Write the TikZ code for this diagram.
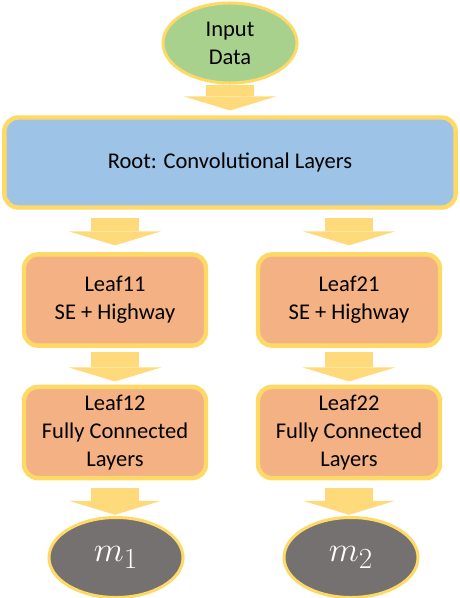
\documentclass[tikz,border=0pt]{standalone}
\usepackage{fontspec}
\setmainfont{Carlito}
\usepackage{tikz}
\usetikzlibrary{shapes.geometric,arrows.meta}
\definecolor{rim}{HTML}{FFD966}
\definecolor{flowgold}{HTML}{FFDA7A}
\definecolor{inputgreen}{HTML}{A9D18E}
\definecolor{rootblue}{HTML}{9DC3E6}
\definecolor{leaforange}{HTML}{F4B183}
\definecolor{outgray}{HTML}{767171}

\begin{document}
\begin{tikzpicture}[
  x=0.025cm, y=-0.025cm,
  box/.style={draw=rim, line width=0.11cm, rounded corners=0.35cm, fill=#1,
    align=center, inner sep=0pt, font=\fontsize{16}{20}\selectfont},
  blob/.style={ellipse, draw=rim, line width=0.075cm, fill=#1, inner sep=0pt,
    minimum width=3.35cm, minimum height=2cm, align=center},
  flow/.style={draw=flowgold, line width=1.18cm,
    -{Triangle[length=0.35cm, width=2.3cm, line width=0pt]},
    shorten <=0.15cm, shorten >=0.12cm}
]
\useasboundingbox (0,0) rectangle (460,598);

\node[blob=inputgreen, font=\fontsize{16}{20}\selectfont] (input) at (230,43) {Input\\Data};

\node[box=rootblue, minimum width=11.28cm, minimum height=2.25cm] (root) at (230,162.5) {Root: Convolutional Layers};

\node[box=leaforange, minimum width=4.55cm, minimum height=2.28cm] (leaf11) at (115,300) {Leaf11\\SE + Highway};
\node[box=leaforange, minimum width=4.55cm, minimum height=2.28cm] (leaf21) at (349,300) {Leaf21\\SE + Highway};

\node[box=leaforange, minimum width=4.55cm, minimum height=2.28cm] (leaf12) at (115,432.5) {Leaf12\\Fully Connected\\Layers};
\node[box=leaforange, minimum width=4.55cm, minimum height=2.28cm] (leaf22) at (349,432.5) {Leaf22\\Fully Connected\\Layers};

\node[blob=outgray, text=white, font=\fontsize{32}{34}\selectfont] (m1) at (116,557.5) {$m_1$};
\node[blob=outgray, text=white, font=\fontsize{32}{34}\selectfont] (m2) at (351,557.5) {$m_2$};

\draw[flow, shorten <=0pt] (input) -- (root);
\draw[flow, shorten <=0.2cm, shorten >=0.17cm] (leaf11 |- root.south) -- (leaf11.north);
\draw[flow, shorten <=0.2cm, shorten >=0.17cm] (leaf21 |- root.south) -- (leaf21.north);
\draw[flow, shorten <=0.1cm, shorten >=0.08cm] (leaf11) -- (leaf12);
\draw[flow, shorten <=0.1cm, shorten >=0.08cm] (leaf21) -- (leaf22);
\draw[flow, shorten <=0.2cm, shorten >=0.03cm] (leaf12.south) -- (m1.north -| leaf12);
\draw[flow, shorten <=0.2cm, shorten >=0.03cm] (leaf22.south) -- (m2.north -| leaf22);

\end{tikzpicture}
\end{document}
